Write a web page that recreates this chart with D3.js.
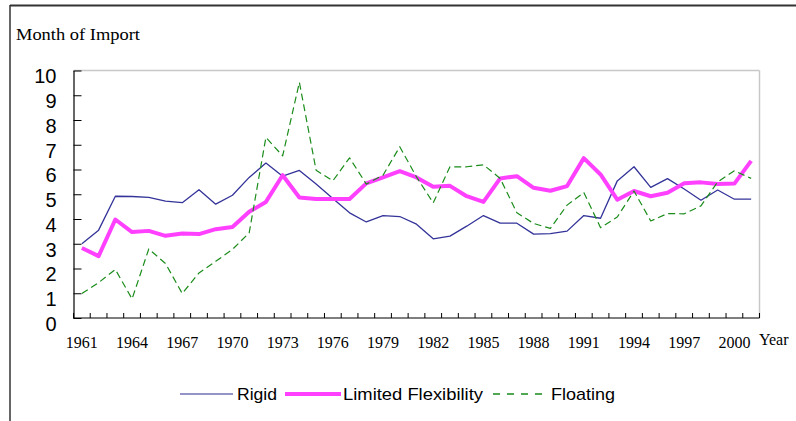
<!DOCTYPE html>
<html>
<head>
<meta charset="utf-8">
<script src="https://cdn.jsdelivr.net/npm/d3@7"></script>
<style>
  html, body { margin: 0; padding: 0; background: #fff; }
  svg { display: block; }
</style>
</head>
<body>
<svg id="chart" width="796" height="421"></svg>
<script>
const years = d3.range(1961, 2002);
const yTicks = [0, 1, 2, 3, 4, 5, 6, 7, 8, 9, 10];
const xLabelYears = [1961, 1964, 1967, 1970, 1973, 1976, 1979, 1982, 1985, 1988, 1991, 1994, 1997, 2000];

const rigid = [3.0, 3.55, 4.92, 4.91, 4.87, 4.72, 4.66, 5.18, 4.60, 4.96, 5.68, 6.26, 5.73, 5.96,
  5.41, 4.83, 4.25, 3.88, 4.14, 4.10, 3.79, 3.20, 3.31, 3.71, 4.14, 3.83, 3.83,
  3.39, 3.41, 3.51, 4.14, 4.03, 5.54, 6.11, 5.28, 5.63, 5.21, 4.76, 5.17, 4.80, 4.80];
const limited = [2.83, 2.50, 3.98, 3.47, 3.52, 3.32, 3.41, 3.39, 3.59, 3.68, 4.29, 4.69, 5.77, 4.87,
  4.81, 4.81, 4.81, 5.44, 5.68, 5.93, 5.68, 5.30, 5.34, 4.92, 4.69, 5.64, 5.73,
  5.26, 5.14, 5.33, 6.46, 5.80, 4.78, 5.13, 4.92, 5.06, 5.44, 5.48, 5.41, 5.43, 6.35];
const floating = [0.99, 1.43, 1.96, 0.77, 2.79, 2.20, 0.99, 1.82, 2.29, 2.77, 3.44, 7.30, 6.55, 9.52,
  5.97, 5.54, 6.47, 5.41, 5.77, 6.92, 5.70, 4.65, 6.11, 6.11, 6.19, 5.64, 4.25,
  3.82, 3.62, 4.56, 5.07, 3.65, 4.08, 5.13, 3.92, 4.22, 4.21, 4.53, 5.50, 5.95, 5.64];

const seriesNames = ["Rigid", "Limited Flexibility", "Floating"];
const seriesData = [rigid, limited, floating];
const seriesColors = ["#333399", "#ff40ff", "#1a8c1a"];
const seriesWidths = [1.3, 4, 1.2];
const seriesDash = [null, null, "7,4"];

(function () {
const svg = d3.select("#chart");

// outer frame (top and left)
svg.append("line").attr("x1", 10).attr("x2", 796).attr("y1", 5.5).attr("y2", 5.5)
  .attr("stroke", "#333").attr("stroke-width", 2);
svg.append("line").attr("x1", 10).attr("x2", 10).attr("y1", 5).attr("y2", 421)
  .attr("stroke", "#333").attr("stroke-width", 1.5);

const pLeft = 73.5, pRight = 759.5, pTop = 70.5, pBottom = 318;
const x = d3.scaleBand().domain(years).range([pLeft, pRight]).paddingInner(0).paddingOuter(0);
const y = d3.scaleLinear().domain([0, 10]).range([pBottom, pTop]);
const cx = d => x(d) + x.bandwidth() / 2;

// plot border (top & right light grey)
svg.append("line").attr("x1", pLeft).attr("x2", pRight).attr("y1", pTop).attr("y2", pTop)
  .attr("stroke", "#c8c8c8").attr("stroke-width", 1.5);
svg.append("line").attr("x1", pRight).attr("x2", pRight).attr("y1", pTop).attr("y2", pBottom)
  .attr("stroke", "#c8c8c8").attr("stroke-width", 1.5);

// y axis
const yAxis = d3.axisLeft(y).tickValues(yTicks).tickSize(-8).tickPadding(17).tickSizeOuter(0);
const gy = svg.append("g").attr("transform", `translate(${pLeft},0)`).call(yAxis);
gy.select(".domain").attr("stroke", "#000").attr("stroke-width", 1.2);
gy.selectAll(".tick line").attr("stroke", "#000");
gy.selectAll(".tick text").attr("font-family", "Arial, 'Liberation Sans', sans-serif")
  .attr("font-size", 20).attr("fill", "#000").attr("dy", "0.62em");

// x axis (tick marks at category boundaries, inward)
const gx = svg.append("g").attr("transform", `translate(0,${pBottom})`);
gx.append("line").attr("x1", pLeft).attr("x2", pRight).attr("y1", 0).attr("y2", 0)
  .attr("stroke", "#000").attr("stroke-width", 1.2);
const boundaries = years.map(d => x(d)).concat([pRight]);
gx.selectAll("line.tk").data(boundaries).enter().append("line").attr("class", "tk")
  .attr("x1", d => d).attr("x2", d => d).attr("y1", 0).attr("y2", -5)
  .attr("stroke", "#000").attr("stroke-width", 1);
gx.selectAll("text.lbl").data(xLabelYears).enter().append("text").attr("class", "lbl")
  .attr("x", d => cx(d)).attr("y", 30).attr("text-anchor", "middle")
  .attr("font-family", "'Times New Roman', 'Liberation Serif', serif").attr("font-size", 16)
  .attr("fill", "#000").text(d => d);

svg.append("text").attr("x", 759).attr("y", 345).attr("font-family", "'Times New Roman', 'Liberation Serif', serif")
  .attr("font-size", 16).attr("fill", "#000").text("Year");

svg.append("text").attr("x", 16).attr("y", 40).attr("font-family", "'Times New Roman', 'Liberation Serif', serif")
  .attr("font-size", 17).attr("textLength", 124).attr("lengthAdjust", "spacingAndGlyphs")
  .attr("fill", "#000").text("Month of Import");

// lines
const lineGen = d3.line().x((d, i) => cx(years[i])).y(d => y(d));
seriesData.forEach((data, k) => {
  const p = svg.append("path").datum(data).attr("d", lineGen)
    .attr("fill", "none").attr("stroke", seriesColors[k]).attr("stroke-width", seriesWidths[k])
    .attr("stroke-linejoin", "round");
  if (seriesDash[k]) p.attr("stroke-dasharray", seriesDash[k]);
});

// legend
const legendItems = [
  { x1: 180, x2: 233, tx: 237, w: 40 },
  { x1: 285, x2: 341, tx: 343, w: 140 },
  { x1: 493, x2: 547, tx: 551, w: 64 }
];
const ly = 394;
legendItems.forEach((it, k) => {
  const l = svg.append("line").attr("x1", it.x1).attr("x2", it.x2).attr("y1", ly).attr("y2", ly)
    .attr("stroke", seriesColors[k]).attr("stroke-width", k === 1 ? 4 : 1.5)
    .attr("opacity", k === 0 ? 0.7 : 1);
  if (seriesDash[k]) l.attr("stroke-dasharray", "7,7");
  svg.append("text").attr("x", it.tx).attr("y", ly + 6)
    .attr("font-family", "Arial, 'Liberation Sans', sans-serif").attr("font-size", 17)
    .attr("textLength", it.w).attr("lengthAdjust", "spacingAndGlyphs")
    .attr("fill", "#000").text(seriesNames[k]);
});
})();
</script>
</body>
</html>
